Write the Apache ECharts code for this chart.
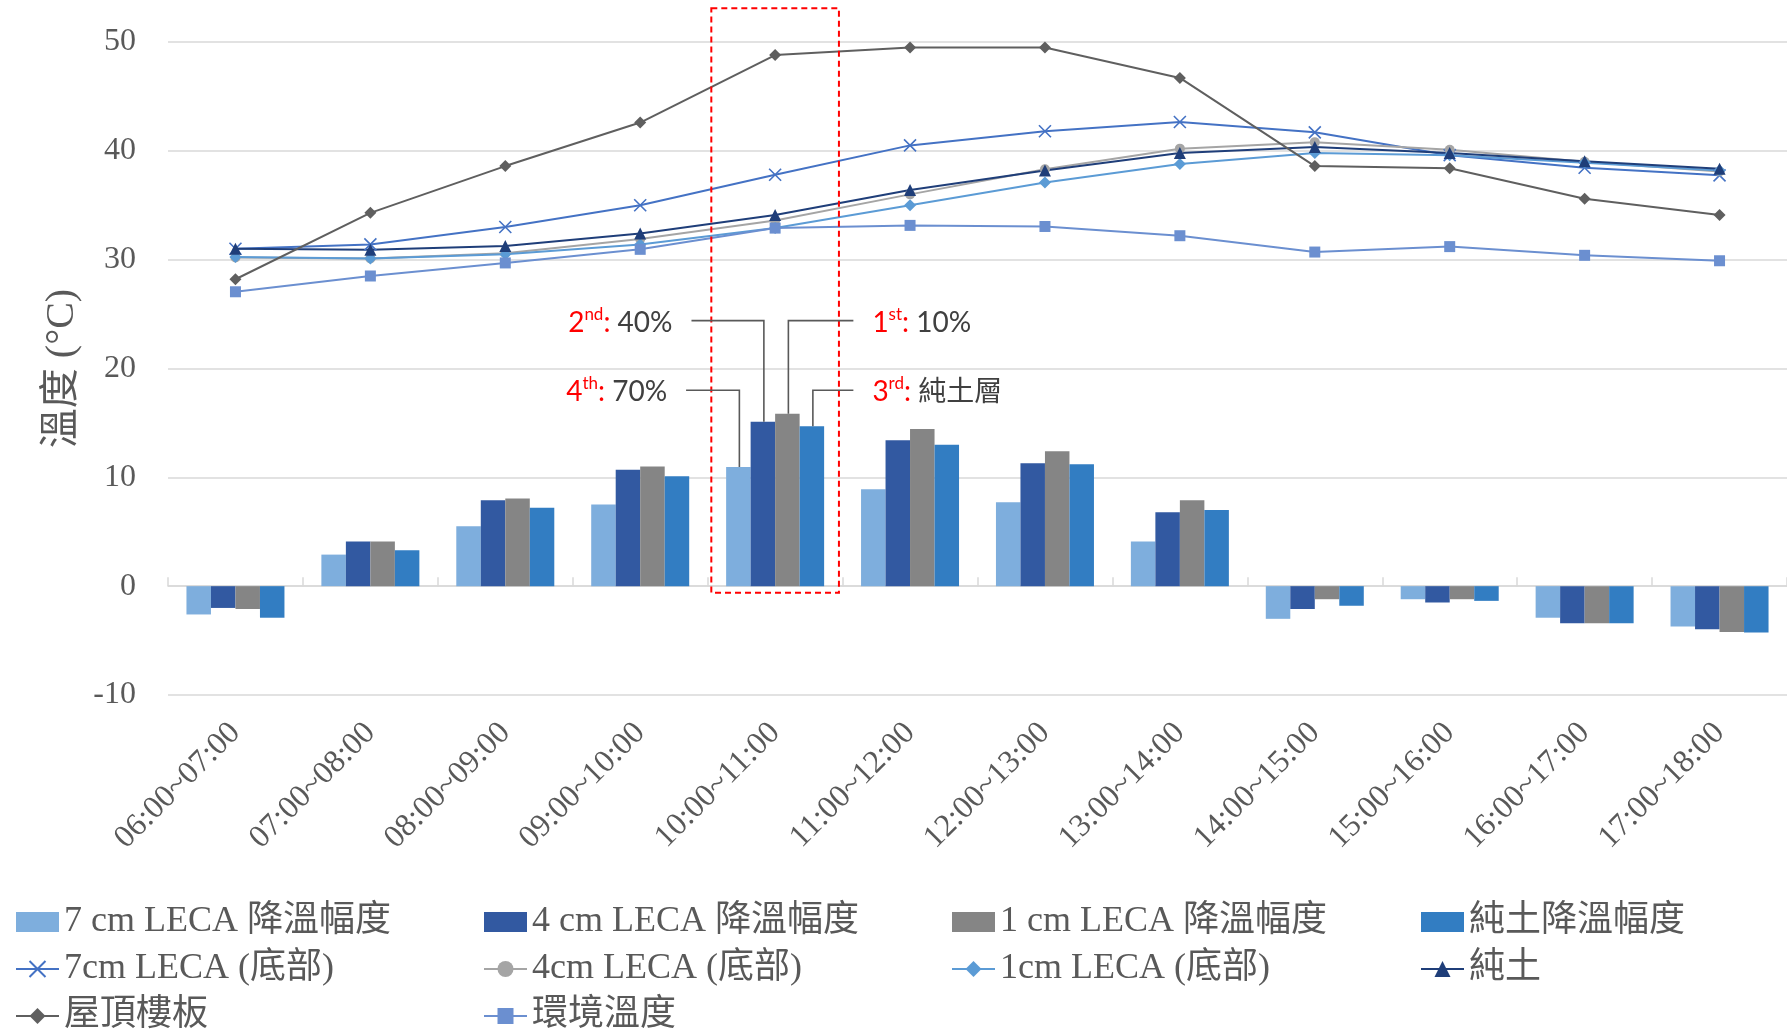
<!DOCTYPE html>
<html>
<head>
<meta charset="utf-8">
<script src="https://cdn.jsdelivr.net/npm/echarts@6/dist/echarts.min.js"></script>
<style>
html,body{margin:0;padding:0;background:#fff;}
#chart{width:1787px;height:1033px;}
</style>
</head>
<body>
<div id="chart"></div>
<script>
// ---------- data ----------
const categories = ['06:00~07:00','07:00~08:00','08:00~09:00','09:00~10:00','10:00~11:00','11:00~12:00',
  '12:00~13:00','13:00~14:00','14:00~15:00','15:00~16:00','16:00~17:00','17:00~18:00'];
const yTicks = [-10, 0, 10, 20, 30, 40, 50];

const drop7cm   = [-2.6, 2.9, 5.5, 7.5, 10.95, 8.9, 7.7, 4.1, -3.0, -1.2, -2.9, -3.7];
const drop4cm   = [-2.0, 4.1, 7.9, 10.7, 15.1, 13.4, 11.3, 6.8, -2.1, -1.5, -3.4, -3.95];
const drop1cm   = [-2.1, 4.1, 8.05, 11.0, 15.85, 14.45, 12.4, 7.9, -1.2, -1.2, -3.4, -4.2];
const dropSoil  = [-2.9, 3.3, 7.2, 10.1, 14.7, 13.0, 11.2, 7.0, -1.8, -1.35, -3.4, -4.25];

const bottom7cm = [31.0, 31.4, 33.0, 35.0, 37.8, 40.5, 41.8, 42.65, 41.7, 39.6, 38.45, 37.75];
const bottom4cm = [30.2, 30.1, 30.6, 31.9, 33.6, 36.0, 38.3, 40.2, 40.8, 40.1, 39.0, 38.1];
const bottom1cm = [30.25, 30.1, 30.5, 31.4, 32.9, 35.0, 37.1, 38.8, 39.8, 39.6, 38.9, 38.2];
const soilOnly  = [31.0, 30.9, 31.25, 32.4, 34.1, 36.4, 38.2, 39.8, 40.35, 39.8, 39.05, 38.35];
const roofSlab  = [28.2, 34.3, 38.6, 42.6, 48.8, 49.5, 49.5, 46.7, 38.6, 38.4, 35.6, 34.1];
const ambient   = [27.05, 28.5, 29.7, 30.95, 32.9, 33.15, 33.05, 32.2, 30.7, 31.2, 30.4, 29.9];

// annotation content: [ordinal, suffix, value text, bar series index, side, level]
const callouts = [
  ['2','nd',' 40%', 1, 'left', 'upper'],
  ['1','st',' 10%', 2, 'right','upper'],
  ['4','th',' 70%', 0, 'left', 'lower'],
  ['3','rd',' 純土層', 3, 'right','lower']
];
const highlightIndex = 4;

// ---------- styles ----------
const SERIF = "'Liberation Serif','Noto Sans CJK TC',serif";
const SANS = "Lato,'Noto Sans CJK TC',sans-serif";
const TXT = '#595959';
const GRIDC = '#D9D9D9';
const BW = 24.5;

const chart = echarts.init(document.getElementById('chart'));

function barSeries(name, data, color){
  return {name, type:'bar', data, barWidth:BW, barGap:'0%', itemStyle:{color}, z:2};
}
function lineSeries(name, data, color, symbol, size, extra){
  return Object.assign({name, type:'line', data, symbol, symbolSize:size, showSymbol:true,
    lineStyle:{color, width:2}, itemStyle:{color}, z:3}, extra||{});
}

const legendBase = {
  orient:'vertical', top:898, height:170, itemGap:9, itemWidth:43, itemHeight:20,
  textStyle:{fontFamily:SERIF, fontSize:36, color:TXT, lineHeight:38}
};

const option = {
  animation:false,
  backgroundColor:'#fff',
  grid:{left:168, right:0, top:42, bottom:338, containLabel:false},
  legend:[
    Object.assign({left:10, data:[{name:'7 cm LECA 降溫幅度',icon:'rect'},'7cm LECA (底部)','屋頂樓板']}, legendBase),
    Object.assign({left:478, data:[{name:'4 cm LECA 降溫幅度',icon:'rect'},'4cm LECA (底部)','環境溫度']}, legendBase),
    Object.assign({left:946, data:[{name:'1 cm LECA 降溫幅度',icon:'rect'},'1cm LECA (底部)']}, legendBase),
    Object.assign({left:1415, data:[{name:'純土降溫幅度',icon:'rect'},'純土']}, legendBase)
  ],
  xAxis:[
    {type:'category', data:categories, position:'bottom',
      axisLine:{show:false, onZero:false}, axisTick:{show:false},
      axisLabel:{rotate:45, margin:33, fontFamily:SERIF, fontSize:32, color:TXT}},
    {type:'category', data:categories, position:'bottom', gridIndex:0,
      axisLine:{show:true, onZero:true, lineStyle:{color:GRIDC, width:1.5}},
      axisTick:{show:true, inside:true, length:9, lineStyle:{color:GRIDC, width:1.5}},
      axisLabel:{show:false}}
  ],
  yAxis:{
    type:'value', min:yTicks[0], max:yTicks[yTicks.length-1], interval:10,
    name:'溫度 (°C)', nameLocation:'middle', nameRotate:90, nameGap:78,
    nameTextStyle:{fontFamily:SERIF, fontSize:40, color:TXT},
    axisLine:{show:false}, axisTick:{show:false},
    axisLabel:{margin:32, fontFamily:SERIF, fontSize:32, color:TXT},
    splitLine:{lineStyle:{color:GRIDC, width:1.5}}
  },
  series:[
    barSeries('7 cm LECA 降溫幅度', drop7cm, '#7EAEDD'),
    barSeries('4 cm LECA 降溫幅度', drop4cm, '#3259A1'),
    barSeries('1 cm LECA 降溫幅度', drop1cm, '#858585'),
    barSeries('純土降溫幅度', dropSoil, '#327DC2'),
    lineSeries('7cm LECA (底部)', bottom7cm, '#4472C4', 'path://M0,0L10,10M10,0L0,10', 12,
      {itemStyle:{color:'#4472C4', borderColor:'#4472C4', borderWidth:1.6}}),
    lineSeries('4cm LECA (底部)', bottom4cm, '#A5A5A5', 'circle', 10),
    lineSeries('1cm LECA (底部)', bottom1cm, '#5B9BD5', 'diamond', 12),
    lineSeries('純土', soilOnly, '#1F3E79', 'triangle', 12),
    lineSeries('屋頂樓板', roofSlab, '#5F5F5F', 'diamond', 12),
    lineSeries('環境溫度', ambient, '#6B8FD0', 'rect', 11)
  ]
};
chart.setOption(option);

// ---------- annotations built from the chart's own scales ----------
function buildAnnotations(){
  const cx = chart.convertToPixel({xAxisIndex:0}, highlightIndex);
  const band = chart.convertToPixel({xAxisIndex:0}, highlightIndex+1) - cx;
  const py = v => chart.convertToPixel({yAxisIndex:0}, v);
  const barVals = [drop7cm, drop4cm, drop1cm, dropSoil];
  const g = [];
  const x0 = cx - 0.473*band, x1 = cx + 0.473*band;
  const yTop = py(53.1), yBot = py(-0.6);
  g.push({type:'rect', shape:{x:x0, y:yTop, width:x1-x0, height:yBot-yTop}, z:10,
    style:{fill:'none', stroke:'#FF0000', lineWidth:2, lineDash:[6,4]}});
  const levels = {upper:py(24.4), lower:py(18.0)};
  callouts.forEach(c => {
    const [ord, suf, val, si, side, lvl] = c;
    const bx = cx + (si-1.5)*BW + 1;
    const by = py(barVals[si][highlightIndex]);
    const ly = levels[lvl];
    const lx = side==='left' ? cx - (lvl==='upper'?0.62:0.66)*band : cx + 0.58*band;
    g.push({type:'polyline', z:11, shape:{points:[[lx,ly],[bx,ly],[bx,by]]},
      style:{stroke:'#595959', lineWidth:1.6, fill:'none'}});
    const tx = side==='left' ? lx - 19 : lx + 19;
    g.push({type:'text', z:11, x:tx, y:ly+2, style:{
      text:'{o|'+ord+'}{s|'+suf+'}{o|:}{g|'+val+'}',
      align: side==='left' ? 'right' : 'left', verticalAlign:'middle',
      rich:{
        o:{fill:'#FF0000', fontSize:28, fontFamily:SANS, lineHeight:34},
        s:{fill:'#FF0000', fontSize:17, fontFamily:SANS, lineHeight:34, verticalAlign:'top'},
        g:{fill:'#404040', fontSize:28, fontFamily:SANS, lineHeight:34}
      }}});
  });
  chart.setOption({graphic:g});
}
buildAnnotations();
</script>
</body>
</html>
